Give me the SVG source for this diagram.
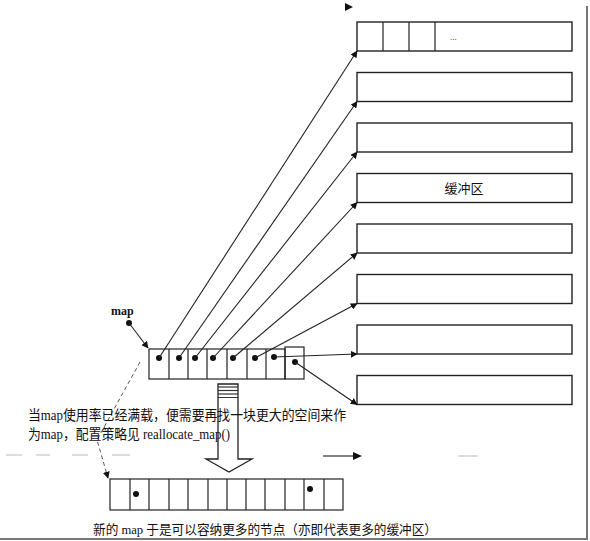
<svg xmlns="http://www.w3.org/2000/svg" width="590" height="541" viewBox="0 0 590 541">
<defs>
<marker id="ah" viewBox="0 0 10 10" refX="9" refY="5" markerWidth="7" markerHeight="7" orient="auto" markerUnits="userSpaceOnUse">
<path d="M0,0 L10,5 L0,10 z" fill="#111"/>
</marker>
<style>
.box{fill:#fff;stroke:#222;stroke-width:1.4}
.cell{fill:none;stroke:#222;stroke-width:1.2}
.dot{fill:#111}
.con{fill:none;stroke:#222;stroke-width:1.1}
.dash{fill:none;stroke:#555;stroke-width:1;stroke-dasharray:4 3}
.ghost{stroke:#bbb;stroke-width:1}
.t{font-family:"Liberation Serif","Noto Sans CJK SC",serif;fill:#111}
</style>
</defs>
<rect width="590" height="541" fill="#fff"/>
<!-- page border -->
<line x1="587" y1="6" x2="587" y2="539" stroke="#777" stroke-width="2"/>
<line x1="0" y1="539" x2="588" y2="539" stroke="#777" stroke-width="2"/>

<!-- buffers -->
<g id="buf1"><rect class="box" x="357" y="22" width="215" height="29"/><line class="cell" x1="383" y1="22" x2="383" y2="51"/><line class="cell" x1="409" y1="22" x2="409" y2="51"/><line class="cell" x1="435" y1="22" x2="435" y2="51"/><text class="t" x="450" y="40" font-size="9">...</text></g>
<g id="buf2"><rect class="box" x="357" y="72.5" width="215" height="29"/></g>
<g id="buf3"><rect class="box" x="357" y="123" width="215" height="29"/></g>
<g id="buf4"><rect class="box" x="357" y="173.5" width="215" height="29"/><text class="t" x="464" y="193" font-size="13" text-anchor="middle">缓冲区</text></g>
<g id="buf5"><rect class="box" x="357" y="224" width="215" height="29"/></g>
<g id="buf6"><rect class="box" x="357" y="274.5" width="215" height="29"/></g>
<g id="buf7"><rect class="box" x="357" y="325" width="215" height="29"/></g>
<g id="buf8"><rect class="box" x="357" y="375.5" width="215" height="29"/></g>

<!-- map -->
<g id="map-label"><text class="t" x="111" y="315" font-size="12" font-weight="bold">map</text><circle class="dot" cx="129" cy="323" r="3"/></g>
<g id="map-array">
<rect class="cell" x="149" y="349" width="136" height="30"/>
<rect class="cell" x="285" y="347" width="19" height="32"/>
<line class="cell" x1="169" y1="349" x2="169" y2="379"/>
<line class="cell" x1="188" y1="349" x2="188" y2="379"/>
<line class="cell" x1="207" y1="349" x2="207" y2="379"/>
<line class="cell" x1="227" y1="349" x2="227" y2="379"/>
<line class="cell" x1="247" y1="349" x2="247" y2="379"/>
<line class="cell" x1="266" y1="349" x2="266" y2="379"/>
<circle class="dot" cx="159" cy="358" r="3"/>
<circle class="dot" cx="179" cy="358" r="3"/>
<circle class="dot" cx="195" cy="358" r="3"/>
<circle class="dot" cx="213" cy="358" r="3"/>
<circle class="dot" cx="233" cy="358" r="3"/>
<circle class="dot" cx="255" cy="358" r="3"/>
<circle class="dot" cx="274" cy="357" r="3"/>
<circle class="dot" cx="295" cy="362" r="3"/>
</g>

<!-- connectors -->
<g id="connectors">
<line class="con" x1="129" y1="323" x2="148" y2="348" marker-end="url(#ah)"/>
<line class="con" x1="159" y1="358" x2="357" y2="51" marker-end="url(#ah)"/>
<line class="con" x1="179" y1="358" x2="357" y2="101.5" marker-end="url(#ah)"/>
<line class="con" x1="195" y1="358" x2="357" y2="152" marker-end="url(#ah)"/>
<line class="con" x1="213" y1="358" x2="357" y2="202.5" marker-end="url(#ah)"/>
<line class="con" x1="233" y1="358" x2="357" y2="253" marker-end="url(#ah)"/>
<line class="con" x1="255" y1="358" x2="357" y2="303.5" marker-end="url(#ah)"/>
<line class="con" x1="274" y1="357" x2="357" y2="354" marker-end="url(#ah)"/>
<line class="con" x1="295" y1="362" x2="357" y2="404.5" marker-end="url(#ah)"/>
<polyline class="dash" points="140,362 97,440 108,478" marker-end="url(#ah)"/>
</g>

<!-- big hollow arrow -->
<g id="big-arrow">
<path d="M218,384 L238,384 L238,459 L252,459 L229,472 L206,459 L218,459 Z" fill="#fff" stroke="#222" stroke-width="1.3"/>
<line x1="218" y1="387" x2="238" y2="387" stroke="#333" stroke-width="1.2"/>
<line x1="218" y1="390.5" x2="238" y2="390.5" stroke="#333" stroke-width="1.2"/>
<line x1="218" y1="394" x2="238" y2="394" stroke="#333" stroke-width="1.2"/>
<line x1="218" y1="397.5" x2="238" y2="397.5" stroke="#333" stroke-width="1"/>
</g>

<!-- note text -->
<g id="note">
<text class="t" x="28" y="420" font-size="14" textLength="318" lengthAdjust="spacingAndGlyphs">当map使用率已经满载，便需要再找一块更大的空间来作</text>
<text class="t" x="28" y="439" font-size="14" textLength="202" lengthAdjust="spacingAndGlyphs">为map，配置策略见 reallocate_map()</text>
</g>

<!-- faint ghost marks -->
<g id="ghost-marks">
<line class="ghost" x1="6" y1="455" x2="22" y2="455"/>
<line class="ghost" x1="36" y1="455" x2="50" y2="455"/>
<line class="ghost" x1="72" y1="455" x2="88" y2="455"/>
<line class="ghost" x1="112" y1="455" x2="130" y2="455"/>
<line class="ghost" x1="458" y1="456" x2="478" y2="456"/>
<line x1="323" y1="456" x2="353" y2="456" stroke="#333" stroke-width="1.2"/>
<path d="M353,452 L362,456 L353,460 Z" fill="#111"/>
<path d="M345,3 L353,7 L345,11 Z" fill="#111"/>
</g>

<!-- new map array -->
<g id="new-map">
<rect class="cell" x="110" y="479" width="233" height="31"/>
<line class="cell" x1="130" y1="479" x2="130" y2="510"/>
<line class="cell" x1="149" y1="479" x2="149" y2="510"/>
<line class="cell" x1="169" y1="479" x2="169" y2="510"/>
<line class="cell" x1="188" y1="479" x2="188" y2="510"/>
<line class="cell" x1="208" y1="479" x2="208" y2="510"/>
<line class="cell" x1="227" y1="479" x2="227" y2="510"/>
<line class="cell" x1="246" y1="479" x2="246" y2="510"/>
<line class="cell" x1="265" y1="479" x2="265" y2="510"/>
<line class="cell" x1="285" y1="479" x2="285" y2="510"/>
<line class="cell" x1="304" y1="479" x2="304" y2="510"/>
<line class="cell" x1="324" y1="479" x2="324" y2="510"/>
<circle class="dot" cx="136" cy="494" r="3"/>
<circle class="dot" cx="310" cy="489" r="3"/>
</g>

<g id="caption">
<text class="t" x="93" y="534" font-size="13" textLength="344" lengthAdjust="spacingAndGlyphs">新的 map 于是可以容纳更多的节点（亦即代表更多的缓冲区）</text>
</g>
</svg>
